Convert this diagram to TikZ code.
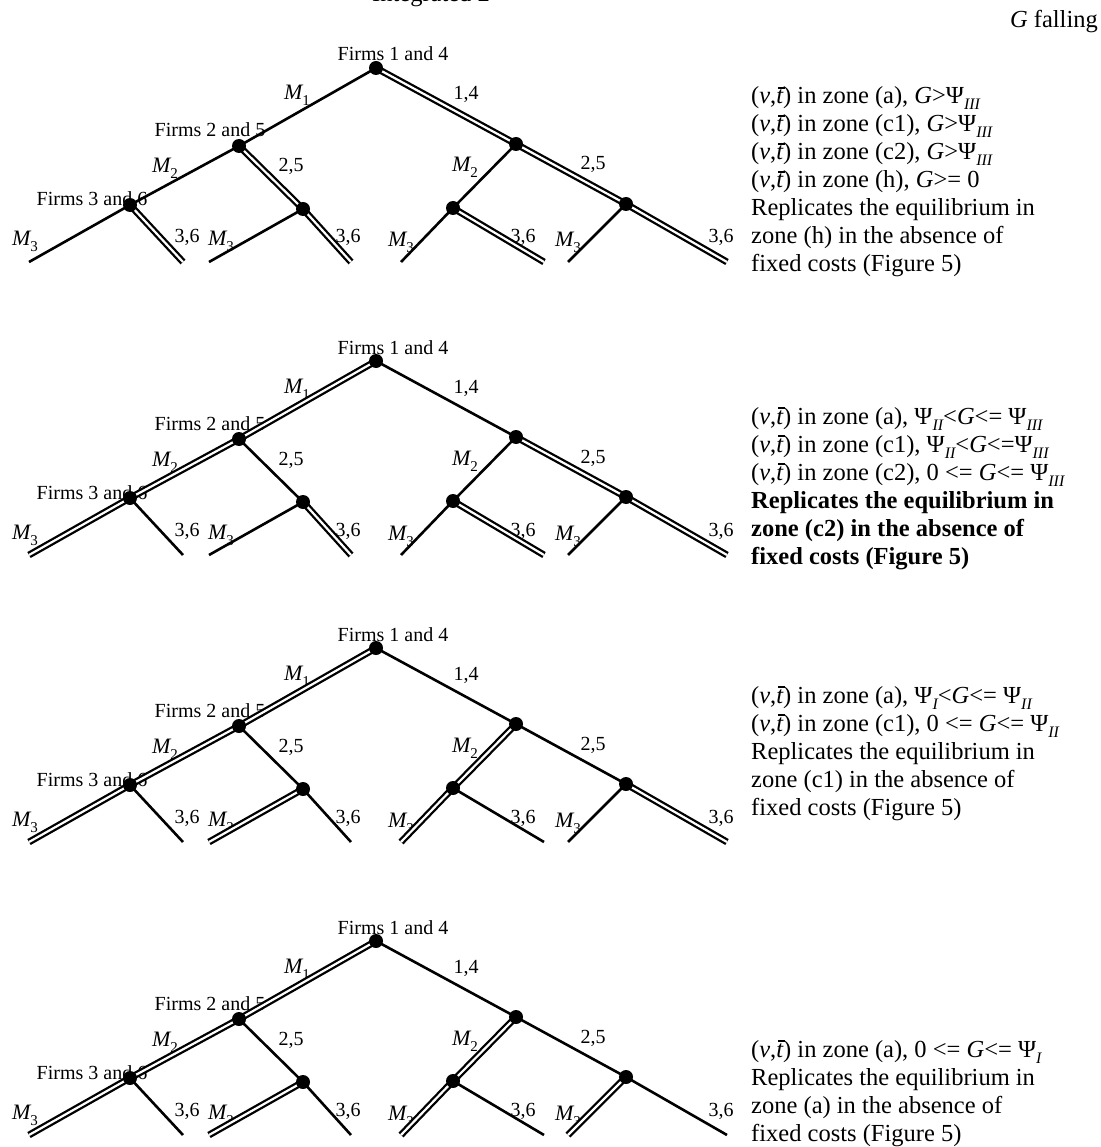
\documentclass[tikz,border=0pt]{standalone}
\usepackage{fontspec}
\setmainfont{Liberation Serif}
\pgfdeclarelayer{lab}
\pgfdeclarelayer{edge}
\pgfsetlayers{lab,edge,main}
\newcommand{\Mx}[1]{{\fontsize{22}{22}\selectfont\itshape M}\raisebox{-6pt}{\fontsize{15}{15}\selectfont #1}}
\newcommand{\tbar}{\makebox[0pt][l]{\kern0.08em\raisebox{0.63em}{\rule{0.26em}{0.05em}}}{\itshape t}}
\newcommand{\vbar}{(\textit{v},\tbar)}
\newcommand{\Psx}[1]{Ψ\raisebox{-6pt}{\fontsize{16}{16}\selectfont\itshape #1}}
\newcommand{\ed}[3]{\draw[#1] (#2.center) -- (#3.center);}
\tikzset{
  dot/.style={circle, fill=black, inner sep=0pt, minimum size=14pt},
  sgl/.style={line width=2.6pt},
  dbl/.style={line width=2.3pt, double=white, double distance=2.2pt},
  lab/.style={inner sep=0pt, anchor=base, font=\fontsize{20}{24}\selectfont},
  txt/.style={inner sep=0pt, anchor=base west, font=\fontsize{24.5}{29}\selectfont},
  btxt/.style={txt, font=\fontsize{24.5}{29}\selectfont\bfseries},
}
\newcommand{\mktree}[3]{%
\begin{scope}[shift={(#2,#3)}]
\node[dot] (#1r)  at (0,0) {};
\node[dot] (#1L)  at (-137,78) {};
\node[dot] (#1R)  at (140,76) {};
\node[dot] (#1LL) at (-246,137) {};
\node[dot] (#1LR) at (-73,141) {};
\node[dot] (#1RL) at (77,140) {};
\node[dot] (#1RR) at (250,136) {};
\coordinate (#1LLa) at (-347,194);
\coordinate (#1LLb) at (-193,194);
\coordinate (#1LRa) at (-167,194);
\coordinate (#1LRb) at (-25,194);
\coordinate (#1RLa) at (25,194);
\coordinate (#1RLb) at (168,194);
\coordinate (#1RRa) at (192,194);
\coordinate (#1RRb) at (351,194);
\begin{pgfonlayer}{lab}
\node[lab] (#1f1) at (17,-7) {Firms 1 and 4};
\node[lab] (#1f2) at (-166,69) {Firms 2 and 5};
\node[lab] (#1f3) at (-284,138) {Firms 3 and 6};
\node[lab] (#1m1) at (-79,32) {\Mx{1}};
\node[lab] (#1n14) at (90,32) {1,4};
\node[lab] (#1m2a) at (-211,105) {\Mx{2}};
\node[lab] (#1n25a) at (-85,104) {2,5};
\node[lab] (#1m2b) at (89,104) {\Mx{2}};
\node[lab] (#1n25b) at (217,102) {2,5};
\node[lab] (#1m3a) at (-351,178) {\Mx{3}};
\node[lab] (#1n36a) at (-189,175) {3,6};
\node[lab] (#1m3b) at (-155,178) {\Mx{3}};
\node[lab] (#1n36b) at (-28,175) {3,6};
\node[lab] (#1m3c) at (25,179) {\Mx{3}};
\node[lab] (#1n36c) at (147,175) {3,6};
\node[lab] (#1m3d) at (192,179) {\Mx{3}};
\node[lab] (#1n36d) at (345,175) {3,6};
\end{pgfonlayer}
\end{scope}}
\newcommand{\edgesL}[9]{%
\begin{pgfonlayer}{edge}
\ed{#2}{#1r}{#1L}
\ed{#3}{#1r}{#1R}
\ed{#4}{#1L}{#1LL}
\ed{#5}{#1L}{#1LR}
\ed{#6}{#1LL}{#1LLa}
\ed{#7}{#1LL}{#1LLb}
\ed{#8}{#1LR}{#1LRa}
\ed{#9}{#1LR}{#1LRb}
\end{pgfonlayer}}
\newcommand{\edgesR}[7]{%
\begin{pgfonlayer}{edge}
\ed{#2}{#1R}{#1RL}
\ed{#3}{#1R}{#1RR}
\ed{#4}{#1RL}{#1RLa}
\ed{#5}{#1RL}{#1RLb}
\ed{#6}{#1RR}{#1RRa}
\ed{#7}{#1RR}{#1RRb}
\end{pgfonlayer}}
\begin{document}
\begin{tikzpicture}[x=1pt,y=-1pt]
\useasboundingbox (0,0) rectangle (1100,1147);
\node[txt, anchor=base] (title) at (431,2) {Integrated 2};
\node[txt, anchor=base east] (gfall) at (1098,28) {\textit{G} falling};

\mktree{A}{376}{68}
\mktree{B}{376}{361}
\mktree{C}{376}{648}
\mktree{D}{376}{941}

% tree 1
\edgesL{A}{sgl}{dbl}{sgl}{dbl}{sgl}{dbl}{sgl}{dbl}
\edgesR{A}{sgl}{dbl}{sgl}{dbl}{sgl}{dbl}
% tree 2
\edgesL{B}{dbl}{sgl}{dbl}{sgl}{dbl}{sgl}{sgl}{dbl}
\edgesR{B}{sgl}{dbl}{sgl}{dbl}{sgl}{dbl}
% tree 3
\edgesL{C}{dbl}{sgl}{dbl}{sgl}{dbl}{sgl}{dbl}{sgl}
\edgesR{C}{dbl}{sgl}{dbl}{sgl}{sgl}{dbl}
% tree 4
\edgesL{D}{dbl}{sgl}{dbl}{sgl}{dbl}{sgl}{dbl}{sgl}
\edgesR{D}{dbl}{sgl}{dbl}{sgl}{dbl}{sgl}

% texts, tree 1
\node[txt] (a1) at (751,104) {\vbar{} in zone (a), \textit{G}>\Psx{III}};
\node[txt] (a2) at (751,132) {\vbar{} in zone (c1), \textit{G}>\Psx{III}};
\node[txt] (a3) at (751,160) {\vbar{} in zone (c2), \textit{G}>\Psx{III}};
\node[txt] (a4) at (751,188) {\vbar{} in zone (h), \textit{G}>= 0};
\node[txt] (a5) at (751,216) {Replicates the equilibrium in};
\node[txt] (a6) at (751,244) {zone (h) in the absence of};
\node[txt] (a7) at (751,272) {fixed costs (Figure 5)};
% tree 2
\node[txt] (b1) at (751,424) {\vbar{} in zone (a), \Psx{II}<\textit{G}<= \Psx{III}};
\node[txt] (b2) at (751,452) {\vbar{} in zone (c1), \Psx{II}<\textit{G}<=\Psx{III}};
\node[txt] (b3) at (751,480) {\vbar{} in zone (c2), 0 <= \textit{G}<= \Psx{III}};
\node[btxt] (b4) at (751,508) {Replicates the equilibrium in};
\node[btxt] (b5) at (751,536) {zone (c2) in the absence of};
\node[btxt] (b6) at (751,564) {fixed costs (Figure 5)};
% tree 3
\node[txt] (c1) at (751,703) {\vbar{} in zone (a), \Psx{I}<\textit{G}<= \Psx{II}};
\node[txt] (c2) at (751,731) {\vbar{} in zone (c1), 0 <= \textit{G}<= \Psx{II}};
\node[txt] (c3) at (751,759) {Replicates the equilibrium in};
\node[txt] (c4) at (751,787) {zone (c1) in the absence of};
\node[txt] (c5) at (751,815) {fixed costs (Figure 5)};
% tree 4
\node[txt] (d1) at (751,1057) {\vbar{} in zone (a), 0 <= \textit{G}<= \Psx{I}};
\node[txt] (d2) at (751,1085) {Replicates the equilibrium in};
\node[txt] (d3) at (751,1113) {zone (a) in the absence of};
\node[txt] (d4) at (751,1141) {fixed costs (Figure 5)};
\end{tikzpicture}
\end{document}
